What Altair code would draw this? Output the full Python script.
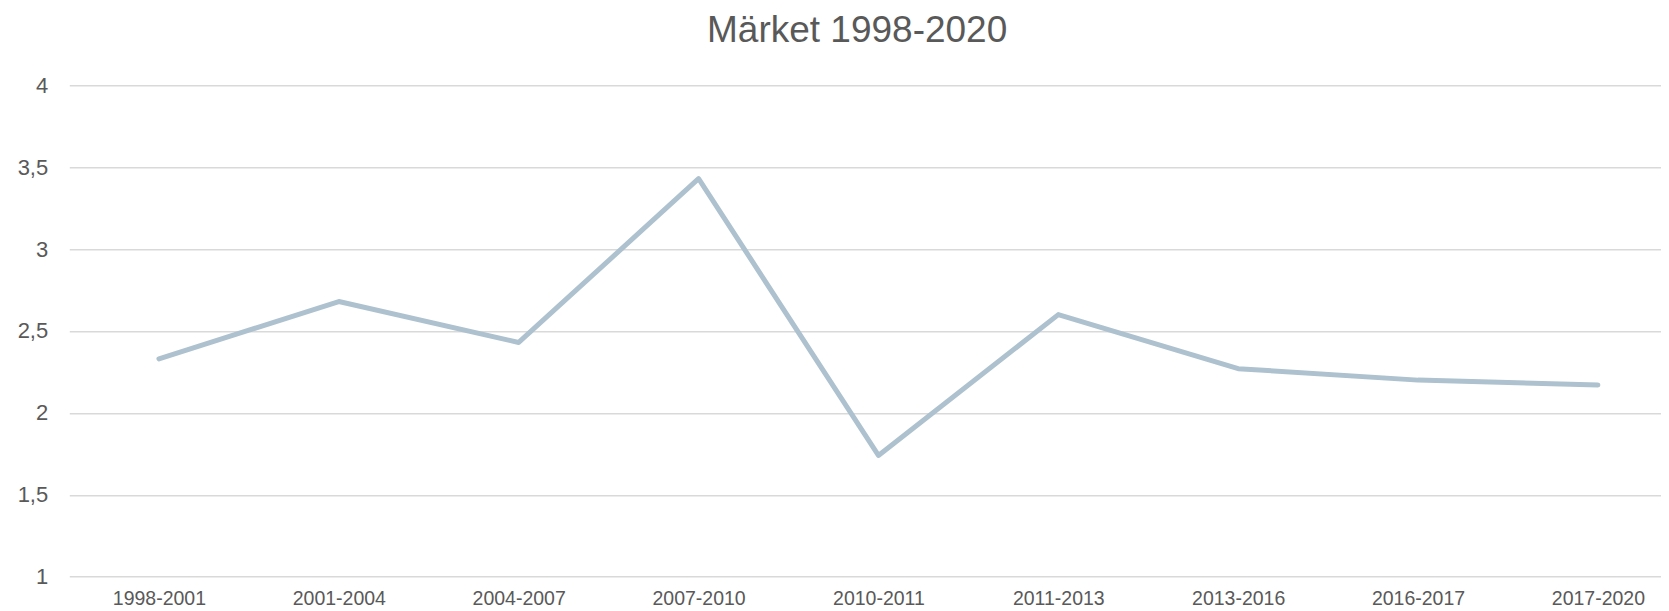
import altair as alt
import pandas as pd

categories = ["1998-2001", "2001-2004", "2004-2007", "2007-2010", "2010-2011",
              "2011-2013", "2013-2016", "2016-2017", "2017-2020"]
values = [2.33, 2.68, 2.43, 3.43, 1.74, 2.60, 2.27, 2.20, 2.17]
y_ticks = [1, 1.5, 2, 2.5, 3, 3.5, 4]

df = pd.DataFrame({"period": categories, "value": values})

FONT = "Liberation Sans"
GREY = "#595959"

chart = alt.Chart(df).mark_line(
    color="#adc1ce", strokeWidth=5, strokeCap="round", strokeJoin="round"
).encode(
    x=alt.X("period:N", sort=categories,
            scale=alt.Scale(type="point", padding=0.4246, align=0.587),
            axis=alt.Axis(title=None, labelAngle=0, ticks=False, domain=False,
                          labelFontSize=19.5, labelColor=GREY, labelFont=FONT,
                          labelPadding=13, grid=False)),
    y=alt.Y("value:Q", scale=alt.Scale(domain=[1, 4], nice=False, zero=False),
            axis=alt.Axis(title=None, values=y_ticks, ticks=False, domain=False,
                          labelExpr="replace(toString(datum.value), '.', ',')",
                          labelFontSize=22, labelColor=GREY, labelFont=FONT,
                          labelPadding=21.6, gridColor="#d9d9d9", gridWidth=1.5)),
).properties(
    width=1592,
    height=491.4,
    title=alt.TitleParams("Märket 1998-2020", fontSize=37, font=FONT, color=GREY,
                          fontWeight="normal", anchor="middle", dx=-8, offset=24),
    autosize=alt.AutoSizeParams(type="none"),
    padding={"left": 61.3, "top": 77.3, "right": 0, "bottom": 34},
).configure_view(stroke=None)

chart.save("out.html", embed_options={"renderer": "svg", "actions": False})
